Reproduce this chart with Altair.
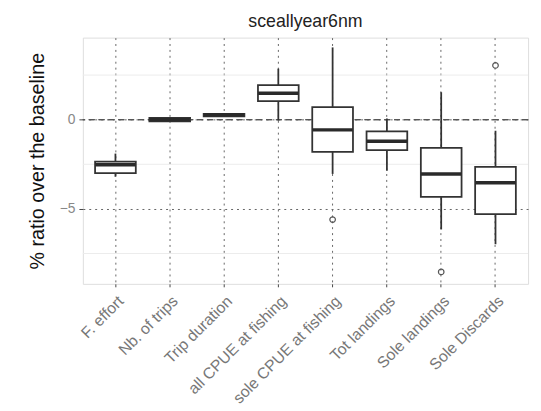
import altair as alt
import pandas as pd

categories = ["F. effort", "Nb. of trips", "Trip duration", "all CPUE at fishing",
              "sole CPUE at fishing", "Tot landings", "Sole landings", "Sole Discards"]
lower = [-3.2, -0.1, 0.18, -0.05, -3.04, -2.86, -6.15, -6.98]
q1 = [-3.0, -0.1, 0.18, 1.04, -1.8, -1.7, -4.32, -5.29]
median = [-2.53, 0.0, 0.28, 1.48, -0.57, -1.21, -3.04, -3.53]
q3 = [-2.35, 0.1, 0.33, 1.94, 0.71, -0.66, -1.58, -2.64]
upper = [-1.9, 0.1, 0.33, 2.86, 4.05, 0.07, 1.54, -0.62]
outlier_cat = ["sole CPUE at fishing", "Sole landings", "Sole Discards"]
outlier_val = [-5.6, -8.53, 3.04]
minor_grid = [-7.5, -2.5, 2.5]
major_ticks = [-5, 0]

df = pd.DataFrame({"cat": categories, "lower": lower, "q1": q1, "median": median,
                   "q3": q3, "upper": upper})
out_df = pd.DataFrame({"cat": outlier_cat, "val": outlier_val})
minor_df = pd.DataFrame({"v": minor_grid})

ytitle = "% ratio over the baseline"
yscale = alt.Scale(domain=[-9.2, 4.6], nice=False, zero=False)
yaxis = alt.Axis(values=major_ticks, grid=True, gridDash=[2, 4], gridColor="#666",
                 gridWidth=1, title=ytitle, titleFontSize=20, titleFontWeight="normal",
                 titleColor="#111", titlePadding=12, labelFontSize=14, labelColor="#888",
                 tickColor="#444", tickSize=4, labelPadding=4, domain=False)
xscale = alt.Scale(paddingInner=0.25, paddingOuter=0.225)
xaxis = alt.Axis(title=None, labelAngle=-45, labelFontSize=16, labelColor="#777",
                 grid=True, gridDash=[2, 4], gridColor="#666", gridWidth=1,
                 tickColor="#444", tickSize=3, labelPadding=6, domain=False)

X = alt.X("cat:N", sort=categories, scale=xscale, axis=xaxis)

minor = alt.Chart(minor_df).mark_rule(color="#ececec", strokeWidth=1).encode(
    y=alt.Y("v:Q", scale=yscale, axis=yaxis, title=ytitle)
)
zero_line = alt.Chart(minor_df).mark_rule(color="#555", strokeWidth=1, strokeDash=[6, 4]).encode(
    y=alt.datum(0)
)
base = alt.Chart(df)
whisk = base.mark_rule(color="#333", strokeWidth=1.8).encode(
    x=X, y=alt.Y("lower:Q", scale=yscale, axis=yaxis, title=ytitle), y2="upper:Q"
)
box = base.mark_bar(fill="white", stroke="#333", strokeWidth=1.8, opacity=1).encode(
    x=X, y=alt.Y("q1:Q", scale=yscale, axis=yaxis, title=ytitle), y2="q3:Q"
)
med = base.mark_tick(color="#2a2a2a", thickness=3.5, size=41, opacity=1).encode(
    x=X, y=alt.Y("median:Q", scale=yscale, axis=yaxis, title=ytitle)
)
outl = alt.Chart(out_df).mark_point(shape="circle", filled=False, color="#555",
                                    size=32, strokeWidth=1.2, opacity=1).encode(
    x=X, y=alt.Y("val:Q", scale=yscale, axis=yaxis, title=ytitle)
)

chart = alt.layer(minor, zero_line, whisk, box, med, outl).properties(
    width=452, height=250,
    title=alt.TitleParams("sceallyear6nm", fontSize=18, fontWeight="normal",
                          color="#222", anchor="middle", offset=7),
    autosize=alt.AutoSizeParams(type="none"),
    padding={"left": 76, "top": 27, "right": 5, "bottom": 124},
).configure_view(stroke="#333", strokeWidth=1.2).configure(
    font="Liberation Sans"
)

chart.save("out.html", embed_options={"renderer": "svg", "actions": False})
